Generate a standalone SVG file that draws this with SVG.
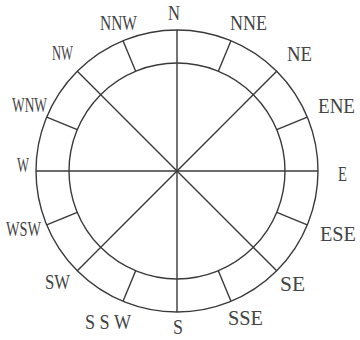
<svg xmlns="http://www.w3.org/2000/svg" width="360" height="340" viewBox="0 0 360 340">
<style>
.ln{stroke:#3a3a3a;stroke-width:1.4;fill:none}
.lb{font-family:"Liberation Serif","Times New Roman",serif;font-size:22px;fill:#444;text-anchor:middle}
</style>
<rect width="360" height="340" fill="#fff"/>
<g id="rings">
<circle class="ln" cx="177" cy="171" r="141"/>
<circle class="ln" cx="177" cy="171" r="108"/>
</g>
<g id="connectors">
<line class="ln" x1="177" y1="30" x2="177" y2="312"/>
<line class="ln" x1="36" y1="171" x2="318" y2="171"/>
<line class="ln" x1="276.7" y1="71.3" x2="77.3" y2="270.7"/>
<line class="ln" x1="77.3" y1="71.3" x2="276.7" y2="270.7"/>
<line class="ln" x1="218.33" y1="71.22" x2="230.96" y2="40.73"/>
<line class="ln" x1="276.78" y1="129.67" x2="307.27" y2="117.04"/>
<line class="ln" x1="276.78" y1="212.33" x2="307.27" y2="224.96"/>
<line class="ln" x1="218.33" y1="270.78" x2="230.96" y2="301.27"/>
<line class="ln" x1="135.67" y1="270.78" x2="123.04" y2="301.27"/>
<line class="ln" x1="77.22" y1="212.33" x2="46.73" y2="224.96"/>
<line class="ln" x1="77.22" y1="129.67" x2="46.73" y2="117.04"/>
<line class="ln" x1="135.67" y1="71.22" x2="123.04" y2="40.73"/>
</g>
<g id="labels">
<g id="n-N"><text class="lb" x="174" y="20" textLength="12" lengthAdjust="spacingAndGlyphs">N</text></g>
<g id="n-NNE"><text class="lb" x="248.5" y="30" textLength="37" lengthAdjust="spacingAndGlyphs">NNE</text></g>
<g id="n-NE"><text class="lb" x="299.5" y="61" textLength="25" lengthAdjust="spacingAndGlyphs">NE</text></g>
<g id="n-ENE"><text class="lb" x="336.5" y="113" textLength="37" lengthAdjust="spacingAndGlyphs">ENE</text></g>
<g id="n-E"><text class="lb" x="342.5" y="181" textLength="9" lengthAdjust="spacingAndGlyphs">E</text></g>
<g id="n-ESE"><text class="lb" x="338" y="241" textLength="36" lengthAdjust="spacingAndGlyphs">ESE</text></g>
<g id="n-SE"><text class="lb" x="292.5" y="291" textLength="25" lengthAdjust="spacingAndGlyphs">SE</text></g>
<g id="n-SSE"><text class="lb" x="245.5" y="325" textLength="35" lengthAdjust="spacingAndGlyphs">SSE</text></g>
<g id="n-S"><text class="lb" x="178" y="334" textLength="10" lengthAdjust="spacingAndGlyphs">S</text></g>
<g id="n-SSW"><text class="lb" x="108" y="329" textLength="46" lengthAdjust="spacingAndGlyphs">S S W</text></g>
<g id="n-SW"><text class="lb" x="57.5" y="289" textLength="25" lengthAdjust="spacingAndGlyphs">SW</text></g>
<g id="n-WSW"><text class="lb" x="23.5" y="236" textLength="35" lengthAdjust="spacingAndGlyphs">WSW</text></g>
<g id="n-W"><text class="lb" x="23" y="172" textLength="12" lengthAdjust="spacingAndGlyphs">W</text></g>
<g id="n-WNW"><text class="lb" x="29.5" y="112" textLength="35" lengthAdjust="spacingAndGlyphs">WNW</text></g>
<g id="n-NW"><text class="lb" x="62.5" y="60" textLength="21" lengthAdjust="spacingAndGlyphs">NW</text></g>
<g id="n-NNW"><text class="lb" x="118.5" y="30" textLength="37" lengthAdjust="spacingAndGlyphs">NNW</text></g>
</g>
</svg>
